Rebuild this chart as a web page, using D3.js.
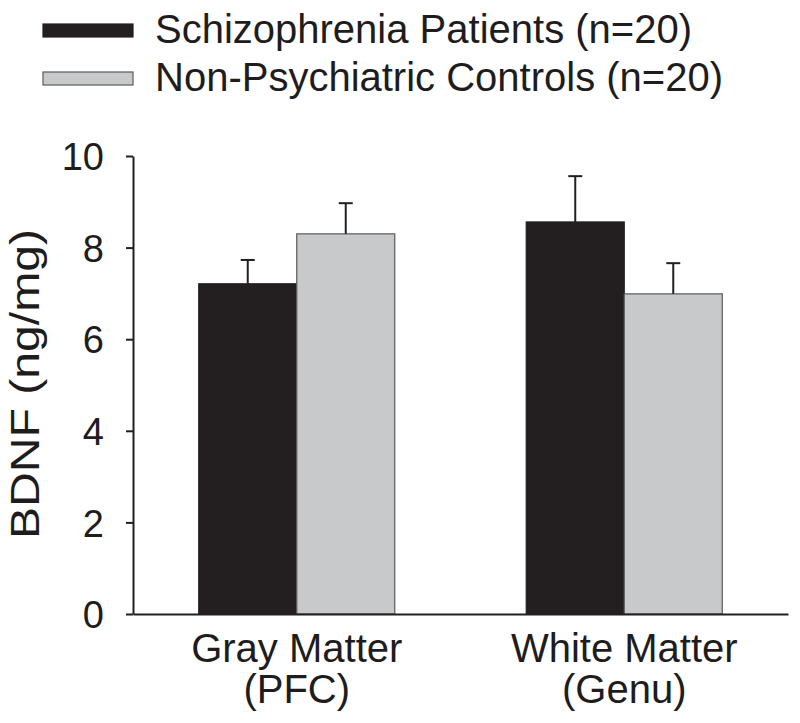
<!DOCTYPE html>
<html>
<head>
<meta charset="utf-8">
<script src="https://cdn.jsdelivr.net/npm/d3@7"></script>
<style>
  html, body { margin: 0; padding: 0; background: #fff; }
  svg { display: block; }
  text { font-family: "Liberation Sans", Arial, sans-serif; fill: #1e1c1d; }
</style>
</head>
<body>
<svg id="chart" width="800" height="723"></svg>
<script>
const categories = [["Gray Matter", "(PFC)"], ["White Matter", "(Genu)"]];
const seriesNames = ["Schizophrenia Patients (n=20)", "Non-Psychiatric Controls (n=20)"];
const schizophreniaMeans = [7.21, 8.56];
const schizophreniaErrors = [0.52, 1.00];
const controlMeans = [8.30, 6.99];
const controlErrors = [0.67, 0.67];
const yTicks = [0, 2, 4, 6, 8, 10];
const yLabel = "BDNF (ng/mg)";

const colors = ["#231f20", "#c8c9ca"];
const strokes = ["#231f20", "#5a5a5a"];

const svg = d3.select("#chart");
const x0 = d3.scaleBand().domain(categories.map((d, i) => i)).range([133, 788])
  .paddingInner(0.4015).paddingOuter(0.20075);
const x1 = d3.scaleBand().domain([0, 1]).range([0, x0.bandwidth()]);
const y = d3.scaleLinear().domain([0, 10]).range([614, 156]);

const series = [
  { name: seriesNames[0], means: schizophreniaMeans, errs: schizophreniaErrors },
  { name: seriesNames[1], means: controlMeans, errs: controlErrors }
];

// bars
series.forEach((s, si) => {
  const g = svg.append("g");
  g.selectAll("rect").data(s.means).join("rect")
    .attr("x", (d, i) => x0(i) + x1(si))
    .attr("y", d => y(d))
    .attr("width", x1.bandwidth())
    .attr("height", d => y(0) - y(d))
    .attr("fill", colors[si])
    .attr("stroke", strokes[si])
    .attr("stroke-width", 1.2);
  // error bars
  s.means.forEach((m, i) => {
    const cx = x0(i) + x1(si) + x1.bandwidth() / 2;
    svg.append("line").attr("x1", cx).attr("x2", cx)
      .attr("y1", y(m)).attr("y2", y(m + s.errs[i]))
      .attr("stroke", "#231f20").attr("stroke-width", 2);
    svg.append("line").attr("x1", cx - 7).attr("x2", cx + 7)
      .attr("y1", y(m + s.errs[i])).attr("y2", y(m + s.errs[i]))
      .attr("stroke", "#231f20").attr("stroke-width", 2);
  });
});

// y axis
const yAxis = d3.axisLeft(y).tickValues(yTicks).tickSize(7).tickPadding(22).tickSizeOuter(0);
const ga = svg.append("g").attr("transform", "translate(133,0)").call(yAxis);
ga.select(".domain").attr("stroke", "#231f20").attr("stroke-width", 2);
ga.selectAll(".tick line").attr("stroke", "#231f20").attr("stroke-width", 2);
ga.selectAll(".tick text").attr("font-size", 38).attr("font-family", "Liberation Sans, Arial, sans-serif")
  .attr("fill", "#1e1c1d").attr("dy", "0.36em");

// x axis baseline
const xAxis = d3.axisBottom(x0).tickSize(0).tickFormat("").tickSizeOuter(0);
const gx = svg.append("g").attr("transform", `translate(0,${y(0)})`).call(xAxis);
gx.select(".domain").attr("stroke", "#231f20").attr("stroke-width", 2);

// category labels
categories.forEach((c, i) => {
  const cx = x0(i) + x0.bandwidth() / 2;
  const t = svg.append("text").attr("x", cx).attr("text-anchor", "middle").attr("font-size", 40);
  t.append("tspan").attr("x", cx).attr("y", 662).text(c[0]);
  t.append("tspan").attr("x", cx).attr("y", 703).text(c[1]);
});

// y label
svg.append("text")
  .attr("transform", "translate(39,384) rotate(-90)")
  .attr("text-anchor", "middle")
  .attr("font-size", 40)
  .attr("textLength", 310)
  .attr("lengthAdjust", "spacingAndGlyphs")
  .text(yLabel);

// legend
const legendY = [24, 72];
const baseY = [43, 91];
series.forEach((s, si) => {
  svg.append("rect").attr("x", 43).attr("y", legendY[si]).attr("width", 90).attr("height", 13)
    .attr("fill", colors[si]).attr("stroke", strokes[si]).attr("stroke-width", 1.2);
  svg.append("text").attr("x", 155).attr("y", baseY[si]).attr("font-size", 40).text(s.name);
});
</script>
</body>
</html>
